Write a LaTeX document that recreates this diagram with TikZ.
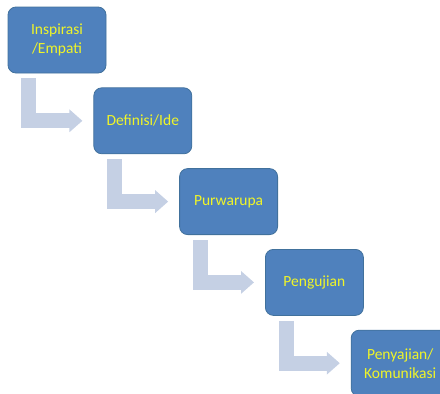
\documentclass[tikz,border=0pt]{standalone}
\usepackage{fontspec}
\setmainfont{Carlito}
\usetikzlibrary{positioning,arrows.meta}
\definecolor{boxblue}{RGB}{79,129,189}
\definecolor{boxline}{RGB}{65,113,156}
\definecolor{flowgrey}{RGB}{197,208,228}
\definecolor{txtyellow}{RGB}{240,245,40}

\begin{document}
\begin{tikzpicture}[x=1pt,y=-1pt,
  stage/.style={draw=boxline,line width=0.8pt,fill=boxblue,rounded corners=8pt,
    minimum width=98pt,minimum height=66pt,inner sep=2pt,align=center,
    text=txtyellow,font=\fontsize{15.5}{19}\selectfont},
  flow/.style={draw=flowgrey,line width=15pt,line join=miter,
    -{Triangle[length=13pt,width=22pt]},shorten <=5pt,shorten >=11pt}]
\useasboundingbox (0,0) rectangle (440,394);
\clip (0,0) rectangle (440,394);
\node[stage] (b1) at (57,40) {Inspirasi\\/Empati};
\node[stage,below right=14pt and -13pt of b1] (b2) {Definisi/Ide};
\node[stage,below right=14pt and -13pt of b2] (b3) {Purwarupa};
\node[stage,below right=14pt and -13pt of b3] (b4) {Pengujian};
\node[stage,below right=14pt and -13pt of b4] (b5) {Penyajian/\\Komunikasi};
% bent arrows between stages
\foreach \a/\b in {b1/b2,b2/b3,b3/b4,b4/b5}
  \draw[flow] ([xshift=21pt]\a.south west) |- (\b.west);
\end{tikzpicture}
\end{document}
